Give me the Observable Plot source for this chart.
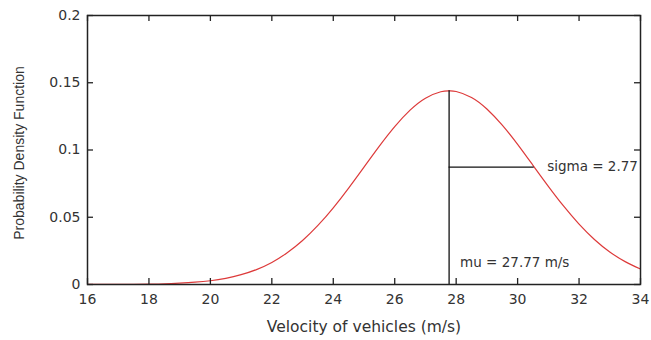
<!DOCTYPE html>
<html><head><meta charset="utf-8">
<script src="https://cdn.jsdelivr.net/npm/d3@7"></script>
<script src="https://cdn.jsdelivr.net/npm/@observablehq/plot@0.6"></script>
<style>
html,body{margin:0;padding:0;background:#fff;}
svg{display:block;}
</style></head>
<body><div id="chart"></div>
<script>
// Curve (velocity in m/s, density)
const velocity = [16,16.5,17,17.5,18,18.5,19,19.5,20,20.5,21,21.5,22,22.5,23,23.5,24,24.5,25,25.5,26,26.5,27,27.5,27.77,28,28.5,29,29.5,30,30.5,31,31.5,32,32.5,33,33.5,34];
const density  = [0.00002,0.00004,0.00008,0.00015,0.0003,0.0005,0.001,0.0017,0.0028,0.0046,0.0073,0.0111,0.0164,0.0236,0.0327,0.0439,0.057,0.0717,0.0873,0.1029,0.1174,0.1296,0.1385,0.1433,0.144,0.1435,0.1391,0.1305,0.1185,0.1042,0.0886,0.073,0.0582,0.0449,0.0335,0.0242,0.017,0.0115];
const xTicks = [16,18,20,22,24,26,28,30,32,34];
const yTicks = [0,0.05,0.1,0.15,0.2];
const yTickLabels = ["0","0.05","0.1","0.15","0.2"];
const mu = 27.77;
const sigma = 2.77;
const peak = 0.144;
const sigmaLevel = 0.0873;

const curve = velocity.map((v,i)=>({v, d: density[i]}));
const W = 651, H = 340, mL = 87, mR = 11, mT = 15, mB = 56;
const ih = H - mT - mB, iw = W - mL - mR;
const font = "DejaVu Sans, Verdana, sans-serif";
const txt = "#333";

const chart = Plot.plot({
  width: W, height: H,
  marginLeft: mL, marginRight: mR, marginTop: mT, marginBottom: mB,
  style: {fontFamily: font, background: "#fff"},
  x: {domain: [16,34]},
  y: {domain: [0,0.2]},
  marks: [
    Plot.line(curve, {x: "v", y: "d", stroke: "#dd3a3a", strokeWidth: 1.2, curve: "natural"}),
    Plot.ruleX([mu], {y1: 0, y2: peak, stroke: "#111", strokeWidth: 1.3}),
    Plot.ruleY([sigmaLevel], {x1: mu, x2: mu + sigma, stroke: "#111", strokeWidth: 1.3}),
    Plot.text(["sigma = 2.77"], {x: mu + sigma, y: sigmaLevel, text: d=>d, textAnchor: "start", dx: 13, fontSize: 13.5, fill: txt, fontFamily: font}),
    Plot.text(["mu = 27.77 m/s"], {x: mu, frameAnchor: "bottom", dy: -18, text: d=>d, textAnchor: "start", dx: 11, fontSize: 13.5, fill: txt, fontFamily: font}),
    // inward ticks on all four sides
    Plot.tickX(xTicks, {x: d=>d, insetTop: ih - 6, stroke: "#222", strokeWidth: 1.3}),
    Plot.tickX(xTicks, {x: d=>d, insetBottom: ih - 6, stroke: "#222", strokeWidth: 1.3}),
    Plot.tickY(yTicks, {y: d=>d, insetRight: iw - 6, stroke: "#222", strokeWidth: 1.3}),
    Plot.tickY(yTicks, {y: d=>d, insetLeft: iw - 6, stroke: "#222", strokeWidth: 1.3}),
    Plot.frame({stroke: "#222", strokeWidth: 1.5}),
    Plot.axisX(xTicks, {tickSize: 0, tickPadding: 10, fontSize: 14, fill: txt, label: null, fontFamily: font}),
    Plot.axisY(yTicks, {tickSize: 0, tickPadding: 7, fontSize: 14, fill: txt, label: null, fontFamily: font, tickFormat: (d,i)=>yTickLabels[i]}),
    Plot.text(["Velocity of vehicles (m/s)"], {frameAnchor: "bottom", dy: 47, text: d=>d, fontSize: 15.5, fill: txt, fontFamily: font}),
    Plot.text(["Probability Density Function"], {frameAnchor: "left", dx: -68, dy: 3, rotate: -90, textAnchor: "middle", text: d=>d, fontSize: 14, fill: txt, fontFamily: "Liberation Sans, Arial, sans-serif"})
  ]
});
document.getElementById("chart").appendChild(chart);
</script>
</body></html>
